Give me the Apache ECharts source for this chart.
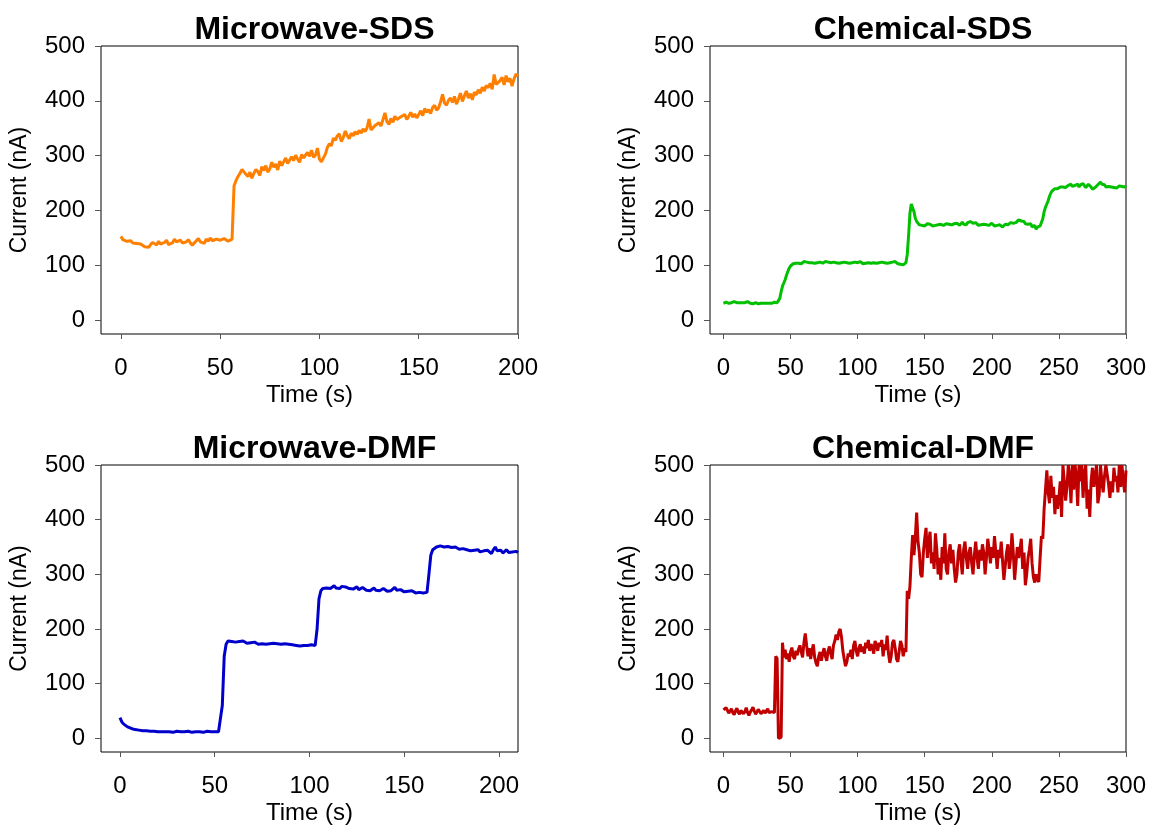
<!DOCTYPE html>
<html>
<head>
<meta charset="utf-8">
<script src="https://cdn.jsdelivr.net/npm/echarts@6/dist/echarts.min.js"></script>
<style>html,body{margin:0;padding:0;background:#fff;}#c{width:1151px;height:826px;}</style>
</head>
<body>
<div id="c"></div>
<script>
// ---- data (sampled every 1 s) ----
const dt = 1;
const titles = ['Microwave-SDS', 'Chemical-SDS', 'Microwave-DMF', 'Chemical-DMF'];
const xTicksMwSDS = [0, 50, 100, 150, 200];
const xTicksChSDS = [0, 50, 100, 150, 200, 250, 300];
const xTicksMwDMF = [0, 50, 100, 150, 200];
const xTicksChDMF = [0, 50, 100, 150, 200, 250, 300];
const yTicks = [0, 100, 200, 300, 400, 500];

const mwSDS = [
153,147,146,144,142,145,141,143,140,138,
139,136,134,131,133,138,142,140,137,144,
139,136,142,146,138,135,141,148,143,140,
146,141,138,143,147,141,137,140,145,149,
143,146,140,148,144,150,145,142,148,151,
146,143,149,147,144,146,148,245,255,262,
268,275,278,266,262,270,259,268,275,271,
264,280,273,282,270,276,288,279,285,274,
290,282,279,296,286,283,298,291,301,294,
288,302,296,293,306,299,310,297,301,314,
294,289,296,303,315,322,318,332,328,336,
340,326,333,345,337,331,341,336,344,339,
346,341,349,344,351,367,347,350,355,352,
360,354,366,378,362,357,368,361,372,366,
363,371,368,375,366,372,379,370,376,369,
375,382,373,386,379,384,377,388,392,383,
387,398,412,396,392,401,405,397,408,394,
403,414,399,409,418,405,413,402,416,411,
420,414,425,418,428,424,432,421,448,430,
428,437,443,429,446,435,441,427,440,449,
445
];

const chSDS = [
31,32,33,32,31,33,32,32,34,33,
32,31,32,33,32,31,32,33,34,32,
31,32,30,31,32,31,30,32,31,30,
31,32,31,30,31,32,31,32,33,32,
32,33,40,52,62,68,74,82,89,95,
99,101,103,102,104,103,104,106,103,105,
107,104,106,108,105,103,105,107,104,106,
105,103,106,108,104,105,107,104,106,109,
105,104,106,103,105,107,104,106,105,103,
106,104,105,107,104,106,105,103,106,108,
105,104,107,105,103,106,104,106,105,107,
104,103,105,106,104,107,105,103,106,104,
105,107,104,106,105,103,106,104,107,105,
103,101,102,100,101,103,105,120,155,195,
212,215,198,186,180,177,174,176,173,175,
172,174,176,173,175,174,172,175,173,176,
174,172,175,177,173,174,176,173,175,178,
174,172,176,174,177,175,173,176,179,175,
177,174,178,176,180,182,177,174,178,175,
173,176,174,177,175,172,174,176,173,175,
177,174,172,175,173,176,174,172,170,173,
175,177,174,176,178,175,177,180,178,181,
183,185,181,178,180,176,178,175,172,176,
170,168,173,166,170,168,172,175,185,198,
206,212,218,226,232,236,238,240,241,240,
242,243,241,243,245,242,244,246,243,248,
244,242,246,245,248,243,247,244,249,246,
242,245,248,246,243,239,236,242,244,247,
249,252,248,245,247,243,241,244,246,243,
240,242,244,241,243,245,242,244,246,243,
245
];

const mwDMF = [
38,30,26,23,21,19,18,17,16,15,
15,14,14,13,14,13,13,12,13,12,
12,13,12,11,12,13,12,12,11,12,
13,12,12,11,12,12,13,12,11,12,
12,13,12,12,11,12,13,12,12,11,
12,13,12,12,60,150,172,178,179,177,
178,176,179,177,175,178,176,174,177,175,
173,176,174,172,175,173,174,172,175,173,
171,174,172,173,171,172,170,173,171,172,
170,171,173,170,172,169,171,170,172,170,
168,171,169,170,200,255,270,274,276,275,
278,274,276,279,275,277,274,278,275,277,
280,274,276,273,275,277,272,274,276,273,
271,274,270,272,275,271,273,270,272,274,
271,269,272,270,273,276,271,269,272,270,
268,271,269,267,270,268,266,269,267,268,
266,265,267,300,335,345,348,350,349,352,
355,350,348,351,353,349,347,350,348,346,
349,347,350,345,347,343,346,344,342,345,
341,339,343,340,344,341,338,345,350,343,
341,344,339,342,345,340,343,341,338,342,
340
];

const chDMF = [
52,50,56,53,46,49,54,47,43,50,
55,48,44,51,53,45,49,56,47,42,
48,52,57,50,44,47,53,49,45,48,
51,46,50,54,47,44,49,46,47,150,
146,0,0,2,175,148,162,145,155,140,
158,166,150,145,160,152,163,170,158,148,
175,192,170,150,165,145,160,172,148,138,
132,150,158,142,155,165,150,142,160,168,
155,145,170,178,190,180,195,200,185,160,
145,132,140,155,150,162,145,170,178,160,
150,165,172,158,168,155,175,165,180,160,
172,168,155,178,170,160,175,168,180,150,
172,162,188,155,138,150,175,180,165,145,
140,160,178,170,150,165,158,270,255,278,
330,372,335,368,413,360,340,300,295,340,
365,385,330,360,378,320,340,310,375,345,
300,330,290,350,320,375,310,300,340,355,
320,345,310,285,300,340,355,325,300,345,
360,330,310,340,350,320,300,335,360,330,
310,345,325,355,340,300,330,365,345,320,
350,330,370,340,310,345,330,360,325,290,
315,340,355,310,330,375,340,290,320,350,
330,345,365,310,340,280,300,330,345,365,
320,295,285,300,290,286,330,370,365,420,
455,490,450,430,480,440,460,410,445,420,
440,470,405,500,470,435,460,500,480,430,
500,455,500,480,425,500,470,500,440,485,
500,420,455,405,470,495,460,480,500,430,
445,500,470,450,480,500,500,465,440,470,
450,495,470,480,450,500,460,500,470,450,
490
];

const seriesVals = [mwSDS, chSDS, mwDMF, chDMF];
const xMax = [200, 300, 210, 300];
const xTickSets = [xTicksMwSDS, xTicksChSDS, xTicksMwDMF, xTicksChDMF];
const colors = ['#FF8000', '#00C000', '#0000CC', '#C00000'];

// ---- layout ----
const grids = [
  {left: 101, top: 46, width: 417, height: 288},
  {left: 710, top: 46, width: 416, height: 288},
  {left: 101, top: 465, width: 417, height: 288},
  {left: 710, top: 465, width: 416, height: 288}
];
const FONT = '"Liberation Sans", Arial, sans-serif';

const option = {
  animation: false,
  backgroundColor: '#fff',
  title: grids.map((g, i) => ({
    text: titles[i],
    left: g.left + g.width / 2,
    top: g.top - 37,
    textAlign: 'center',
    textStyle: {fontFamily: FONT, fontWeight: 'bold', fontSize: 32, color: '#000'}
  })),
  grid: grids.map(g => Object.assign({show: true, borderColor: '#000', borderWidth: 1, backgroundColor: 'transparent'}, g)),
  xAxis: grids.map((g, i) => ({
    type: 'value', gridIndex: i, min: -10, max: xMax[i],
    name: 'Time (s)', nameLocation: 'middle', nameGap: 49,
    nameTextStyle: {fontFamily: FONT, fontSize: 24, color: '#000'},
    axisLine: {show: false, onZero: false},
    splitLine: {show: false},
    axisTick: {show: true, inside: false, customValues: xTickSets[i], length: 5, lineStyle: {color: '#555'}},
    axisLabel: {customValues: xTickSets[i], margin: 22, fontFamily: FONT, fontSize: 24, color: '#000'}
  })),
  yAxis: grids.map((g, i) => ({
    type: 'value', gridIndex: i, min: -25, max: 500,
    name: 'Current (nA)', nameLocation: 'middle', nameGap: 70,
    nameTextStyle: {fontFamily: FONT, fontSize: 23, color: '#000'},
    axisLine: {show: false, onZero: false},
    splitLine: {show: false},
    axisTick: {show: true, inside: false, customValues: yTicks, length: 6, lineStyle: {color: '#555'}},
    axisLabel: {customValues: yTicks, margin: 16, fontFamily: FONT, fontSize: 24, color: '#000'}
  })),
  series: seriesVals.map((vals, i) => ({
    type: 'line', xAxisIndex: i, yAxisIndex: i,
    showSymbol: false, symbol: 'none', clip: true,
    lineStyle: {width: 3, color: colors[i]},
    itemStyle: {color: colors[i]},
    data: vals.map((v, k) => [k * dt, v])
  }))
};

const chart = echarts.init(document.getElementById('c'), null, {renderer: 'canvas'});
chart.setOption(option);
</script>
</body>
</html>
